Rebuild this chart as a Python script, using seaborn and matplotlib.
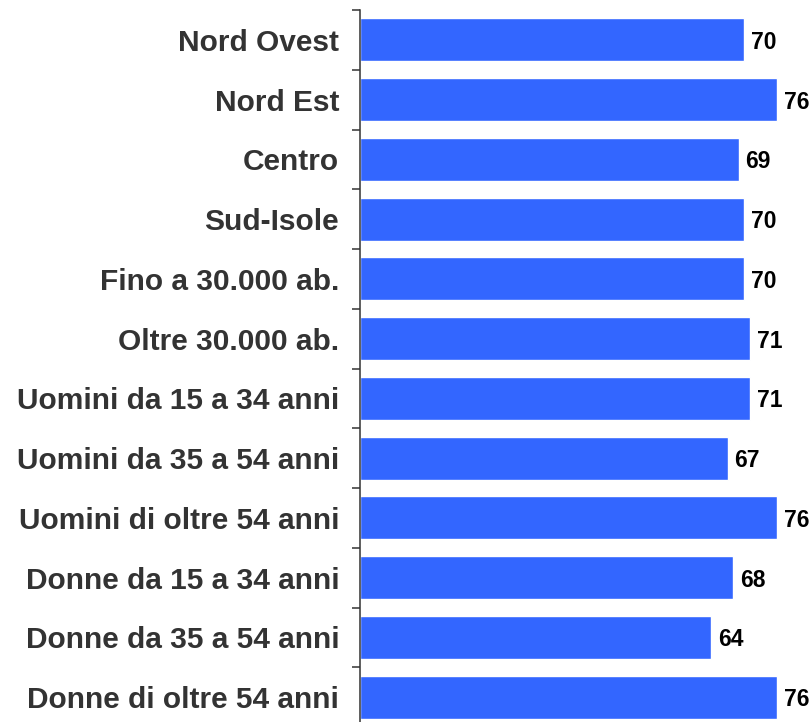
import matplotlib
matplotlib.use("Agg")
import matplotlib.pyplot as plt
import seaborn as sns
import pandas as pd
import numpy as np

categories = ["Nord Ovest", "Nord Est", "Centro", "Sud-Isole",
              "Fino a 30.000 ab.", "Oltre 30.000 ab.",
              "Uomini da 15 a 34 anni", "Uomini da 35 a 54 anni",
              "Uomini di oltre 54 anni", "Donne da 15 a 34 anni",
              "Donne da 35 a 54 anni", "Donne di oltre 54 anni"]
values = [70, 76, 69, 70, 70, 71, 71, 67, 76, 68, 64, 76]

sns.set_style("white")
plt.rcParams['font.family'] = ['Liberation Sans', 'DejaVu Sans']

df = pd.DataFrame({"cat": categories, "val": values})

W, H = 811, 722
fig = plt.figure(figsize=(W / 100, H / 100), dpi=100)
ax = fig.add_axes([360 / W, -5 / H, 439 / W, 717 / H])

sns.barplot(data=df, y="cat", x="val", orient="h", color="#3366FF",
            saturation=1, width=0.72, ax=ax, order=categories)

ax.set_xlim(0, 80)
ax.set_ylim(len(categories) - 0.5, -0.5)
ax.set_xlabel("")
ax.set_ylabel("")
ax.set_xticks([])

for s in ["top", "right", "bottom"]:
    ax.spines[s].set_visible(False)
ax.spines["left"].set_color("#333333")
ax.spines["left"].set_linewidth(1.1)

ax.set_yticks(np.arange(len(categories)))
ax.set_yticklabels(categories, fontsize=21.5, fontweight="bold", color="#333333")
ax.tick_params(axis="y", which="major", length=0, pad=15)
ax.set_yticks(np.arange(-0.5, len(categories), 1), minor=True)
ax.tick_params(axis="y", which="minor", length=6, width=1.1, color="#333333",
               direction="out", left=True)

for c in ax.containers:
    texts = ax.bar_label(c, labels=[str(v) for v in values], padding=5,
                         fontsize=16.5, fontweight="bold", color="black")
    for t in texts:
        t.set_verticalalignment("center_baseline")

fig.savefig("out.png", dpi=100)
